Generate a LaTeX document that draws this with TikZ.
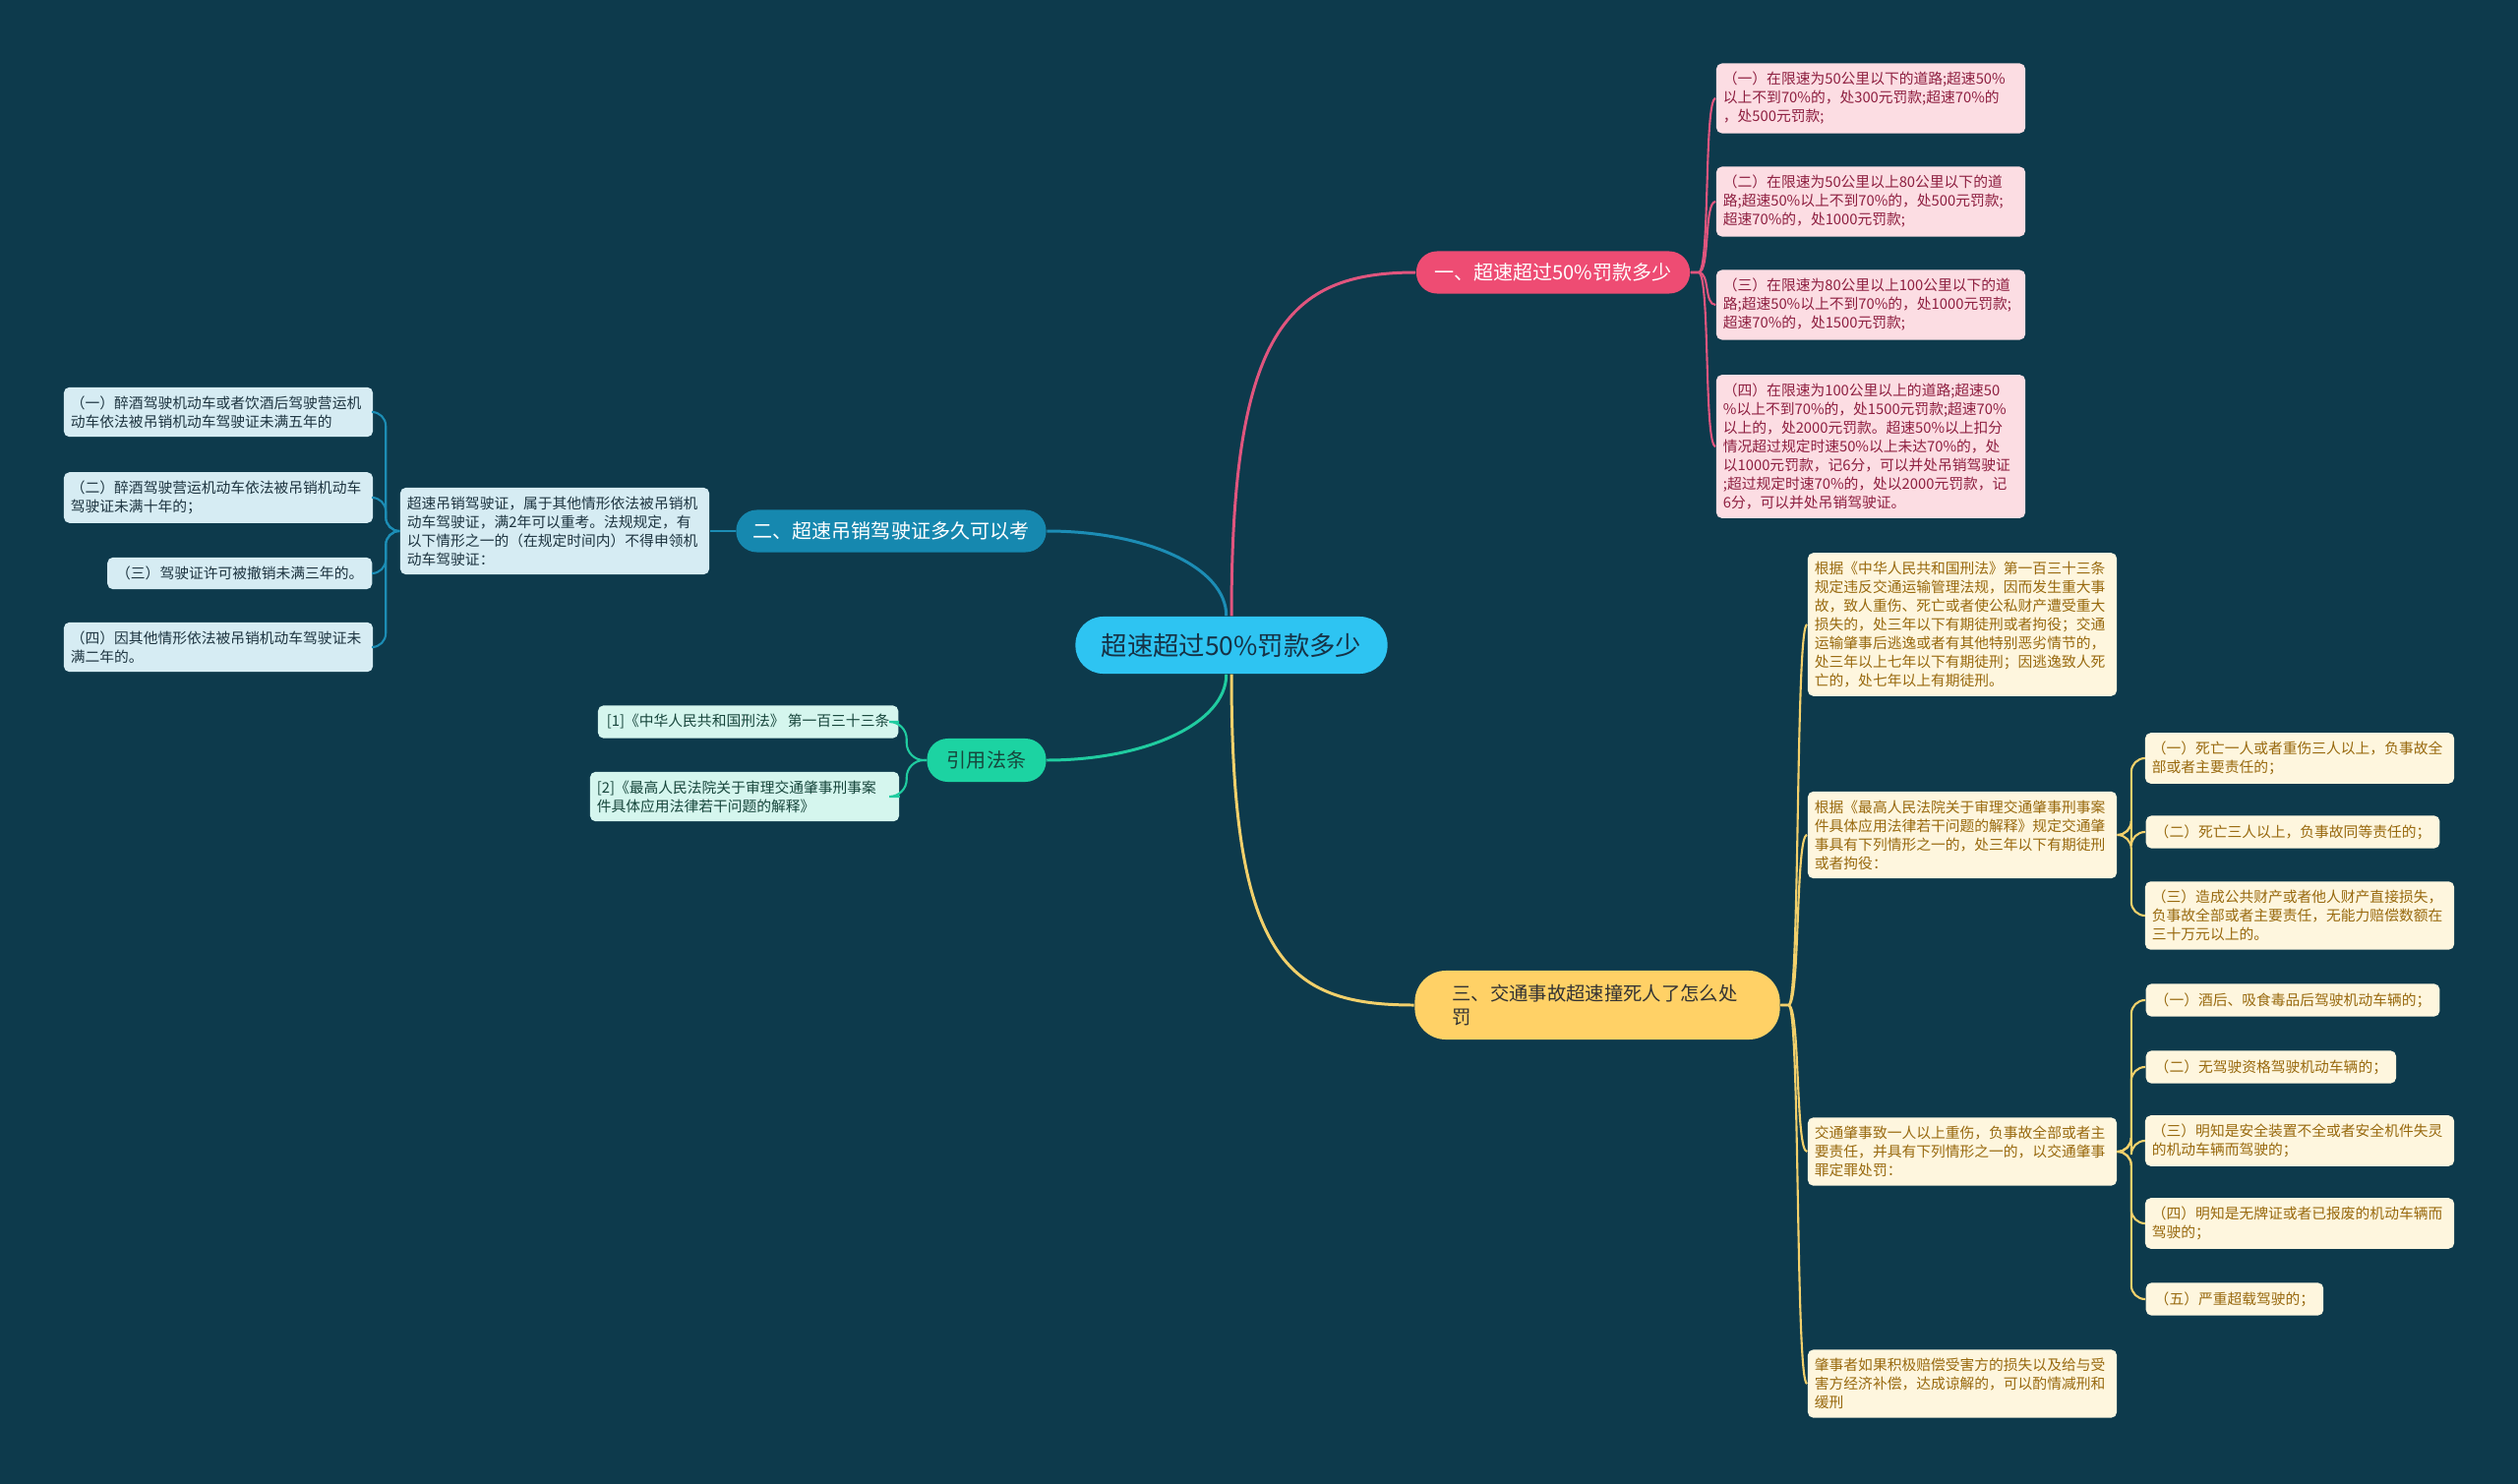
\documentclass[tikz,border=0pt]{standalone}
\usepackage{fontspec}
\setmainfont{Noto Sans CJK SC}
\usepackage{tikz}
\usepackage{xcolor}
\usetikzlibrary{positioning, calc}

\definecolor{bgteal}{HTML}{0D3A4C}
\definecolor{rootfill}{HTML}{2EC4F2}
\definecolor{rootink}{HTML}{163246}
\definecolor{pinkfill}{HTML}{EE4C73}
\definecolor{pinkline}{HTML}{E0557E}
\definecolor{pinkleaf}{HTML}{FCDDE3}
\definecolor{pinkink}{HTML}{8E1F40}
\definecolor{bluefill}{HTML}{1688AF}
\definecolor{blueline}{HTML}{1C8DB5}
\definecolor{blueleaf}{HTML}{D6ECF3}
\definecolor{blueink}{HTML}{1D3440}
\definecolor{greenfill}{HTML}{1CD3A2}
\definecolor{greenline}{HTML}{20CCA0}
\definecolor{greenleaf}{HTML}{D5F6EE}
\definecolor{greenink}{HTML}{17463C}
\definecolor{yellowfill}{HTML}{FFD166}
\definecolor{yellowline}{HTML}{F2D06B}
\definecolor{yellowleaf}{HTML}{FEF6DE}
\definecolor{yellowink}{HTML}{98690E}

\begin{document}
\begin{tikzpicture}[
    x=0.01cm, y=-0.01cm,
    root_node/.style={rectangle, rounded corners=8pt, fill=rootfill, text=rootink, font=\fontsize{7.5}{9}\selectfont, minimum width=3.17cm, minimum height=0.58cm, inner sep=0pt},
    branch_node/.style={rectangle, rounded corners=6pt, font=\fontsize{5.7}{7.2}\selectfont, minimum height=0.43cm, inner sep=0pt},
    leaf_node/.style={rectangle, rounded corners=1.6pt, font=\fontsize{4.2}{5.4}\selectfont, text width=3.0cm, align=left, inner xsep=0.07cm, inner ysep=2.5pt},
    line_leaf/.style={rectangle, rounded corners=1.6pt, font=\fontsize{4.2}{5.4}\selectfont, inner xsep=0.09cm, inner ysep=2.6pt},
    main_link/.style={line width=0.85pt},
    sub_link/.style={line width=0.6pt},
    elbow_link/.style={line width=0.6pt, rounded corners=4pt}
]
    % background and page
    \fill[bgteal] (0,0) rectangle (2560,1509);

    % Central topic
    \node[root_node] (root) at (1252,656) {超速超过50\%罚款多少};

    % Main branches
    \node[branch_node, fill=pinkfill, text=white, minimum width=2.78cm] (pk) at (1579,277) {一、超速超过50\%罚款多少};
    \node[branch_node, fill=bluefill, text=white, minimum width=3.15cm] (bl) at (906,540) {二、超速吊销驾驶证多久可以考};
    \node[branch_node, fill=greenfill, text=greenink, minimum width=1.21cm, minimum height=0.44cm] (gr) at (1003,773) {引用法条};
    \node[branch_node, fill=yellowfill, text=black!80, rounded corners=9pt, font=\fontsize{5.5}{7}\selectfont, minimum height=0.70cm, text width=2.95cm, align=left, inner xsep=0.38cm] (ye) at (1624,1022) {三、交通事故超速撞死人了怎么处\\罚};

    \draw[main_link, pinkline] (root.north) .. controls +(0,-290) and +(-130,0) .. (pk.west);
    \draw[main_link, blueline] (root.100) .. controls +(0,-50) and +(100,0) .. (bl.east);
    \draw[main_link, greenline] (root.260) .. controls +(0,50) and +(100,0) .. (gr.east);
    \draw[main_link, yellowline] (root.south) .. controls +(0,290) and +(-130,0) .. (ye.west);

    % Pink leaves
    \node[leaf_node, fill=pinkleaf, text=pinkink] (p1) at (1902,100) {（一）在限速为50公里以下的道路;超速50\%\\以上不到70\%的，处300元罚款;超速70\%的\\，处500元罚款;};
    \node[leaf_node, fill=pinkleaf, text=pinkink] (p2) at (1902,205) {（二）在限速为50公里以上80公里以下的道\\路;超速50\%以上不到70\%的，处500元罚款;\\超速70\%的，处1000元罚款;};
    \node[leaf_node, fill=pinkleaf, text=pinkink] (p3) at (1902,310) {（三）在限速为80公里以上100公里以下的道\\路;超速50\%以上不到70\%的，处1000元罚款;\\超速70\%的，处1500元罚款;};
    \node[leaf_node, fill=pinkleaf, text=pinkink] (p4) at (1902,454) {（四）在限速为100公里以上的道路;超速50\\\%以上不到70\%的，处1500元罚款;超速70\%\\以上的，处2000元罚款。超速50\%以上扣分\\情况超过规定时速50\%以上未达70\%的，处\\以1000元罚款，记6分，可以并处吊销驾驶证\\;超过规定时速70\%的，处以2000元罚款，记\\6分，可以并处吊销驾驶证。};

    \foreach \leaf in {p1,p2,p3,p4}
        \draw[sub_link, pinkline] (pk.east) -- ++(8,0) .. controls +(12,0) and +(-12,0) .. (\leaf.west);

    % Blue leaves
    \node[leaf_node, fill=blueleaf, text=blueink] (bm) at (564,540) {超速吊销驾驶证，属于其他情形依法被吊销机\\动车驾驶证，满2年可以重考。法规规定，有\\以下情形之一的（在规定时间内）不得申领机\\动车驾驶证：};
    \node[leaf_node, fill=blueleaf, text=blueink] (l1) at (222,419) {（一）醉酒驾驶机动车或者饮酒后驾驶营运机\\动车依法被吊销机动车驾驶证未满五年的};
    \node[leaf_node, fill=blueleaf, text=blueink] (l2) at (222,506) {（二）醉酒驾驶营运机动车依法被吊销机动车\\驾驶证未满十年的；};
    \node[line_leaf, fill=blueleaf, text=blueink, anchor=east] (l3) at (379,583) {（三）驾驶证许可被撤销未满三年的。};
    \node[leaf_node, fill=blueleaf, text=blueink] (l4) at (222,658) {（四）因其他情形依法被吊销机动车驾驶证未\\满二年的。};

    \draw[sub_link, blueline] (bl.west) -- (bm.east);
    \foreach \leaf in {l1,l2,l3,l4}
        \draw[elbow_link, blueline] (bm.west) -- ++(-14,0) |- (\leaf.east);

    % Green leaves
    \node[line_leaf, fill=greenleaf, text=greenink, anchor=east] (g1) at (914,734) {[1]《中华人民共和国刑法》 第一百三十三条};
    \node[leaf_node, fill=greenleaf, text=greenink] (g2) at (757,810) {[2]《最高人民法院关于审理交通肇事刑事案\\件具体应用法律若干问题的解释》};

    \foreach \leaf in {g1,g2}
        \draw[elbow_link, greenline, rounded corners=5pt] (gr.west) -- ++(-20,0) |- (\leaf.east);

    % Yellow leaves
    \node[leaf_node, fill=yellowleaf, text=yellowink] (y1) at (1995,635) {根据《中华人民共和国刑法》第一百三十三条\\规定违反交通运输管理法规，因而发生重大事\\故，致人重伤、死亡或者使公私财产遭受重大\\损失的，处三年以下有期徒刑或者拘役；交通\\运输肇事后逃逸或者有其他特别恶劣情节的，\\处三年以上七年以下有期徒刑；因逃逸致人死\\亡的，处七年以上有期徒刑。};
    \node[leaf_node, fill=yellowleaf, text=yellowink] (y2) at (1995,849) {根据《最高人民法院关于审理交通肇事刑事案\\件具体应用法律若干问题的解释》规定交通肇\\事具有下列情形之一的，处三年以下有期徒刑\\或者拘役：};
    \node[leaf_node, fill=yellowleaf, text=yellowink] (y3) at (1995,1171) {交通肇事致一人以上重伤，负事故全部或者主\\要责任，并具有下列情形之一的，以交通肇事\\罪定罪处罚：};
    \node[leaf_node, fill=yellowleaf, text=yellowink] (y4) at (1995,1407) {肇事者如果积极赔偿受害方的损失以及给与受\\害方经济补偿，达成谅解的，可以酌情减刑和\\缓刑};

    \foreach \leaf in {y1,y2,y3,y4}
        \draw[sub_link, yellowline] (ye.east) -- ++(8,0) .. controls +(12,0) and +(-12,0) .. (\leaf.west);

    % Yellow sub-leaves of y2
    \node[leaf_node, fill=yellowleaf, text=yellowink] (y2a) at (2338,771) {（一）死亡一人或者重伤三人以上，负事故全\\部或者主要责任的；};
    \node[line_leaf, fill=yellowleaf, text=yellowink, anchor=west] (y2b) at (2181,846) {（二）死亡三人以上，负事故同等责任的；};
    \node[leaf_node, fill=yellowleaf, text=yellowink] (y2c) at (2338,931) {（三）造成公共财产或者他人财产直接损失，\\负事故全部或者主要责任，无能力赔偿数额在\\三十万元以上的。};

    \foreach \leaf in {y2a,y2b,y2c}
        \draw[elbow_link, yellowline] (y2.east) -- ++(14,0) |- (\leaf.west);

    % Yellow sub-leaves of y3
    \node[line_leaf, fill=yellowleaf, text=yellowink, anchor=west] (y3a) at (2181,1017) {（一）酒后、吸食毒品后驾驶机动车辆的；};
    \node[line_leaf, fill=yellowleaf, text=yellowink, anchor=west] (y3b) at (2181,1085) {（二）无驾驶资格驾驶机动车辆的；};
    \node[leaf_node, fill=yellowleaf, text=yellowink] (y3c) at (2338,1160) {（三）明知是安全装置不全或者安全机件失灵\\的机动车辆而驾驶的；};
    \node[leaf_node, fill=yellowleaf, text=yellowink] (y3d) at (2338,1244) {（四）明知是无牌证或者已报废的机动车辆而\\驾驶的；};
    \node[line_leaf, fill=yellowleaf, text=yellowink, anchor=west] (y3e) at (2181,1321) {（五）严重超载驾驶的；};

    \foreach \leaf in {y3a,y3b,y3c,y3d,y3e}
        \draw[elbow_link, yellowline] (y3.east) -- ++(14,0) |- (\leaf.west);

\end{tikzpicture}
\end{document}
